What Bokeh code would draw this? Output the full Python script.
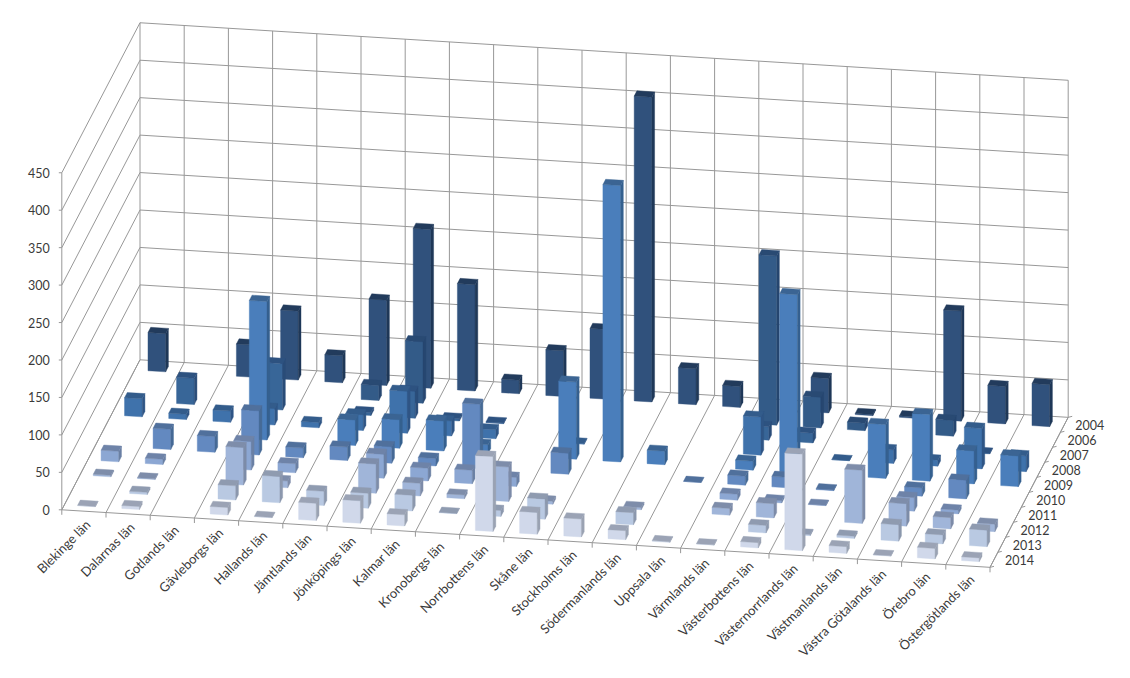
from bokeh.plotting import figure
from bokeh.models import ColumnDataSource, Range1d
from bokeh.core.properties import value
from bokeh.embed import file_html
from bokeh.resources import INLINE

categories = ["Blekinge län", "Dalarnas län", "Gotlands län", "Gävleborgs län", "Hallands län",
              "Jämtlands län", "Jönköpings län", "Kalmar län", "Kronobergs län", "Norrbottens län",
              "Skåne län", "Stockholms län", "Södermanlands län", "Uppsala län", "Värmlands län",
              "Västerbottens län", "Västernorrlands län", "Västmanlands län", "Västra Götalands län",
              "Örebro län", "Östergötlands län"]
years = ["2014", "2013", "2012", "2011", "2010", "2009", "2008", "2007", "2006", "2004"]
value_ticks = [0, 50, 100, 150, 200, 250, 300, 350, 400, 450]

_ = None
y2014 = [0.5, 4, _, 10, 0.5, 23, 30, 15, _, 100, 29, 24, 12, 1, 0.5, 7, 129, 9, 0.5, 14, 5]
y2013 = [_, 3, _, 19, 35, 19, 20, 21, 0.5, 8, 27, _, 16, _, _, 10, 1.5, 3, 22, 12, 22]
y2012 = [2, 1, _, 50, 9, _, 39, 17, 5, 46, 4, _, 3, _, 9, 19, _, 71, 30, 15, 10]
y2011 = [14, 7, _, 38, 12, _, 32, 17, 18, 12, _, _, _, _, 8, 3, 0.5, _, 18, 5, _]
y2010 = [_, 27, 21, 59, 13, 18, 22, 10, 86, _, 28, _, _, 0, 12, 14, 1, _, 11, 25, _]
y2009 = [_, _, _, 185, _, 34, 38, 40, 12, _, 103, 369, 18, _, 12, 238, _, 72, 89, 44, 41]
y2008 = [24, 7, 15, 22, 7, 21, 56, 20, 12, _, 1, _, _, _, 51, _, 0, 18, 8, 54, 21]
y2007 = [_, 35, _, 62, _, 4, 36, 3, 1, _, _, _, _, _, 18, 13, _, _, _, 1, _]
y2006 = [_, _, _, _, _, 20, 82, _, _, _, _, _, _, _, 226, 41, 10, _, 21, _, _]
y2004 = [51, _, 43, 92, 36, 114, 212, 142, 18, 61, 93, 407, 48, 28, _, 46, 1.5, 2, 147, 50, 56]
series = [y2014, y2013, y2012, y2011, y2010, y2009, y2008, y2007, y2006, y2004]

front_colors = ["#D0D8EA", "#B9C9E2", "#A0B5D9", "#8CA7D3", "#6389C0", "#4A7EBB", "#3F72AB", "#386698", "#335B88", "#30517C"]
top_colors = ["#9BA3B5", "#8F9BB0", "#7E8DAA", "#6E83A8", "#50709C", "#3B6493", "#335C8B", "#2D5280", "#294A73", "#223B5C"]
side_colors = ["#9AA2B2", "#8C98AD", "#7D8CA8", "#6B80A4", "#466A96", "#35608F", "#2F5585", "#2A4D79", "#264670", "#1F3858"]

ORIGIN = (61.3, 509.3)
EX = (44.2, 2.74)     # one category along the floor
EZ = (7.82, -15.0)    # one series into depth
EY = -0.749           # one value unit upward
BAR_W, BAR_D = 0.40, 0.35


def proj(c, d, v=0.0):
    return (ORIGIN[0] + EX[0] * c + EZ[0] * d,
            ORIGIN[1] + EX[1] * c + EZ[1] * d + EY * v)


nc, nd, vmax = len(categories), len(years), value_ticks[-1]
p = figure(width=1114, height=662, x_range=Range1d(0, 1114), y_range=Range1d(662, 0),
           output_backend="svg", toolbar_location=None, min_border=0)
p.axis.visible = False
p.grid.visible = False
p.outline_line_color = None
p.background_fill_color = "#FFFFFF"

GRID = "#989898"
gx, gy = [], []


def seg(a, b):
    gx.append([a[0], b[0]])
    gy.append([a[1], b[1]])


for v in value_ticks:
    seg(proj(0, 0, v), proj(0, nd, v))
    seg(proj(0, nd, v), proj(nc, nd, v))
    seg(proj(0, 0, v), (proj(0, 0, v)[0] - 3, proj(0, 0, v)[1]))
for c in range(nc + 1):
    seg(proj(c, 0), proj(c, nd))
    seg(proj(c, nd), proj(c, nd, vmax))
    seg(proj(c, 0), (proj(c, 0)[0], proj(c, 0)[1] + 5))
seg(proj(0, 0), proj(0, 0, vmax))
seg(proj(0, 0), proj(nc, 0))
seg(proj(nc, 0), proj(nc, nd))
for d in range(nd + 1):
    q = proj(nc, d)
    seg(q, (q[0] + 4, q[1] - 1))
p.multi_line(gx, gy, line_color=GRID, line_width=1)

xs, ys, fills = [], [], []
for d in range(nd - 1, -1, -1):
    vals = series[d]
    for c in range(nc):
        v = vals[c]
        if v is None:
            continue
        c0, c1 = c + 0.5 - BAR_W / 2, c + 0.5 + BAR_W / 2
        d0, d1 = d + 0.5 - BAR_D / 2, d + 0.5 + BAR_D / 2
        faces = [
            ([proj(c0, d0), proj(c1, d0), proj(c1, d0, v), proj(c0, d0, v)], front_colors[d]),
            ([proj(c1, d0), proj(c1, d1), proj(c1, d1, v), proj(c1, d0, v)], side_colors[d]),
            ([proj(c0, d0, v), proj(c1, d0, v), proj(c1, d1, v), proj(c0, d1, v)], top_colors[d]),
        ]
        for pts, col in faces:
            xs.append([t[0] for t in pts])
            ys.append([t[1] for t in pts])
            fills.append(col)
p.patches("xs", "ys", fill_color="fills", line_color="fills", line_width=0.4,
          source=ColumnDataSource(dict(xs=xs, ys=ys, fills=fills)))

FONT = value("Lato")
TEXT = "#3A3A3A"
p.text(x=[proj(0, 0, v)[0] - 12 for v in value_ticks], y=[proj(0, 0, v)[1] for v in value_ticks],
       text=[str(v) for v in value_ticks], text_font=FONT, text_font_size="12.5px", text_color=TEXT,
       text_align="right", text_baseline="middle")
p.text(x=[proj(nc, d + 0.5)[0] + 11 for d in range(nd)], y=[proj(nc, d + 0.5)[1] for d in range(nd)],
       text=years, text_font=FONT, text_font_size="12.5px", text_color=TEXT,
       text_align="left", text_baseline="middle")
p.text(x=[proj(c + 0.5, 0)[0] + 4 for c in range(nc)], y=[proj(c + 0.5, 0)[1] + 11 for c in range(nc)],
       text=categories, text_font=FONT, text_font_size="13px", text_color=TEXT,
       text_align="right", text_baseline="middle", angle=0.785398)

open("out.html", "w").write(file_html(p, INLINE))
